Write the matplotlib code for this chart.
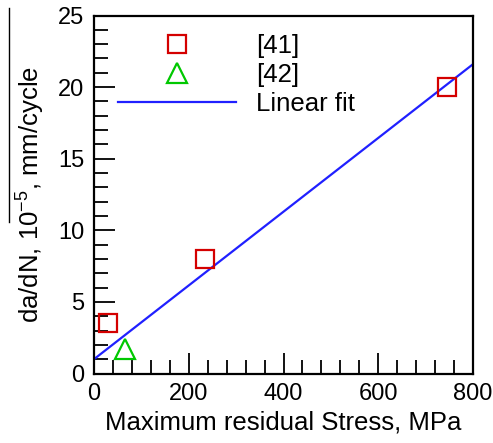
import matplotlib
matplotlib.use("Agg")
import matplotlib.pyplot as plt
from matplotlib.lines import Line2D
from matplotlib.ticker import MultipleLocator

plt.rcParams['font.family'] = ['Liberation Sans', 'DejaVu Sans']
plt.rcParams['mathtext.fontset'] = 'custom'
plt.rcParams['mathtext.rm'] = 'Liberation Sans'
plt.rcParams['mathtext.it'] = 'Liberation Sans:italic'

ref41_x = [30, 235, 745]
ref41_y = [3.5, 8.0, 20.0]
ref42_x = [65]
ref42_y = [1.7]
fit_x = [0, 800]
fit_y = [1.0, 21.6]

W, H = 493, 443
fig = plt.figure(figsize=(W/100, H/100), dpi=100)
ax = fig.add_axes([94/W, 1-373.5/H, (473-94)/W, (373.5-15.5)/H])

ax.plot(ref41_x, ref41_y, 's', ms=13.5, mfc='none', mec='#d40000', mew=1.6, label='[41]', zorder=3)
ax.plot(ref42_x, ref42_y, '^', ms=15, mfc='none', mec='#00c800', mew=1.6, label='[42]', zorder=3)
ax.plot(fit_x, fit_y, '-', color='#2020ff', lw=1.6, label='Linear fit')

ax.set_xlim(0, 800)
ax.set_ylim(0, 25)
ax.xaxis.set_major_locator(MultipleLocator(200))
ax.xaxis.set_minor_locator(MultipleLocator(40))
ax.yaxis.set_major_locator(MultipleLocator(5))
ax.yaxis.set_minor_locator(MultipleLocator(1))
ax.tick_params(which='both', direction='in', top=False, right=False, labelsize=17, width=1.3, color='black')
ax.tick_params(which='major', length=15, pad=7)
ax.tick_params(which='minor', length=10)
for s in ax.spines.values():
    s.set_linewidth(1.6)

ax.set_xlabel('Maximum residual Stress, MPa', fontsize=18.5, labelpad=4)
ax.set_ylabel('da/dN, 10$^{\\mathrm{-5}}$, mm/cycle', fontsize=18.5, labelpad=8)

ax.legend(loc='upper left', bbox_to_anchor=(0.037, 0.978), frameon=False, fontsize=18.5,
          handlelength=4.6, handletextpad=0.75, labelspacing=0.2, borderaxespad=0)

fig.add_artist(Line2D([9/W, 9/W], [1-8/H, 1-222/H], color='black', lw=1.0))

fig.savefig('out.png', dpi=100)
